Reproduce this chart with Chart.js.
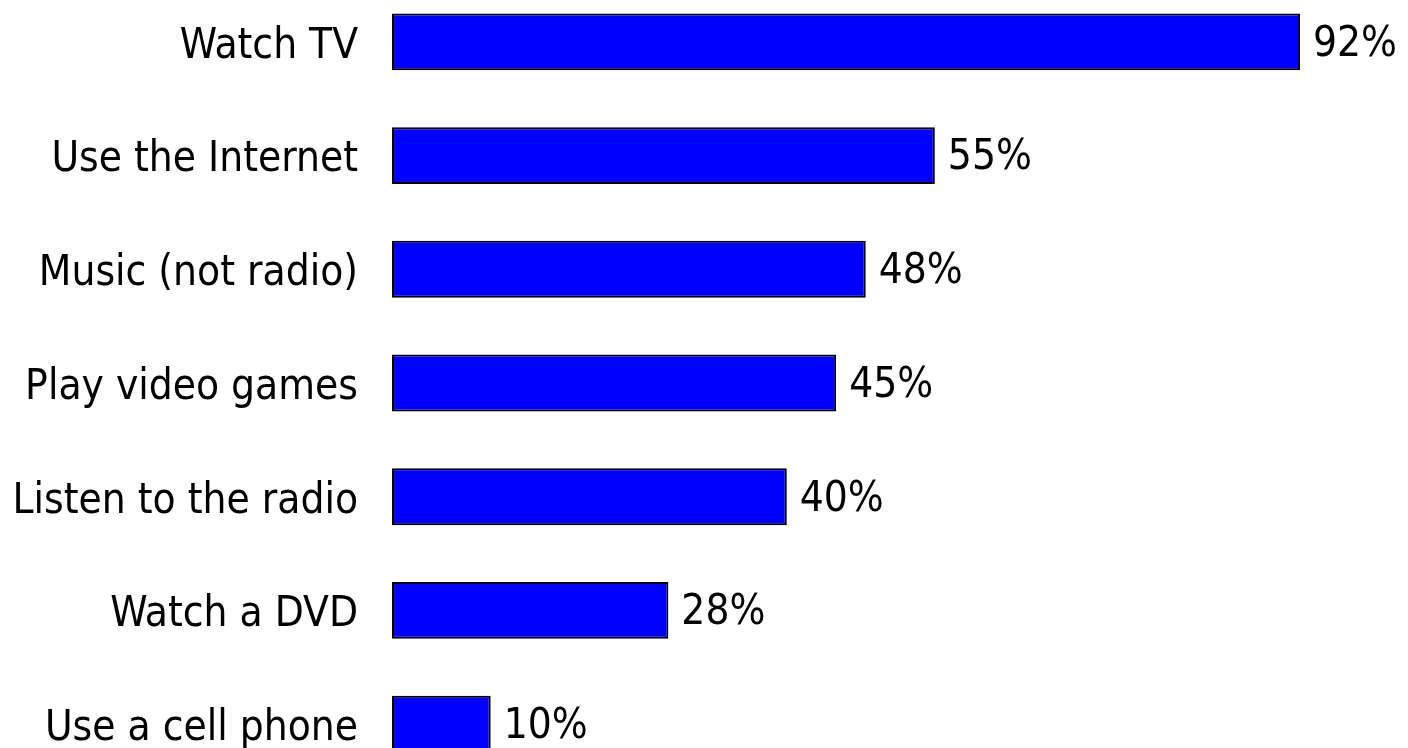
<!DOCTYPE html>
<html>
<head>
<meta charset="utf-8">
<script src="https://cdn.jsdelivr.net/npm/chart.js@4"></script>
<style>
  html, body { margin: 0; padding: 0; background: #fff; overflow: hidden; }
  .wrap { position: relative; width: 1408px; height: 748px; overflow: hidden; }
  .wrap canvas { position: absolute; left: 0; top: -15px; }
</style>
</head>
<body>
<div class="wrap">
  <canvas id="bar-chart" width="1408" height="796"></canvas>
</div>
<script>
var categories = ['Watch TV', 'Use the Internet', 'Music (not radio)', 'Play video games', 'Listen to the radio', 'Watch a DVD', 'Use a cell phone'];
var percents = [92, 55, 48, 45, 40, 28, 10];

var labelFont = { family: '"Liberation Sans Narrow", "DejaVu Sans Condensed", sans-serif', size: 42 };

// value labels at the end of each bar
var valueLabels = {
  id: 'valueLabels',
  afterDatasetsDraw(chart) {
    var ctx = chart.ctx;
    var meta = chart.getDatasetMeta(0);
    ctx.save();
    ctx.font = labelFont.size + 'px ' + labelFont.family;
    ctx.fillStyle = '#000';
    ctx.textAlign = 'left';
    ctx.textBaseline = 'middle';
    meta.data.forEach((bar, i) => {
      ctx.fillText(percents[i] + '%', bar.x + 13, bar.y + 3);
    });
    ctx.restore();
  }
};

var ctx = document.getElementById('bar-chart');
var myChart = new Chart(ctx, {
  type: 'bar',
  data: {
    labels: categories,
    datasets: [{
      data: percents,
      backgroundColor: '#0000ff',
      borderColor: '#000',
      borderWidth: 2,
      borderSkipped: false,
      barPercentage: 0.5,
      categoryPercentage: 1
    }]
  },
  options: {
    indexAxis: 'y',
    responsive: false,
    animation: false,
    layout: { padding: { top: 0, bottom: 0, left: 0, right: 29 } },
    plugins: { legend: { display: false }, tooltip: { enabled: false } },
    scales: {
      x: { display: false, min: 0, max: 100 },
      y: {
        grid: { display: false, drawTicks: false },
        border: { display: false },
        afterFit(scale) {
          scale.width = 392;
          scale.paddingTop = 0;
          scale.paddingBottom = 0;
        },
        ticks: { color: '#000', font: labelFont, padding: 34, labelOffset: 5 }
      }
    }
  },
  plugins: [valueLabels]
});
</script>
</body>
</html>
